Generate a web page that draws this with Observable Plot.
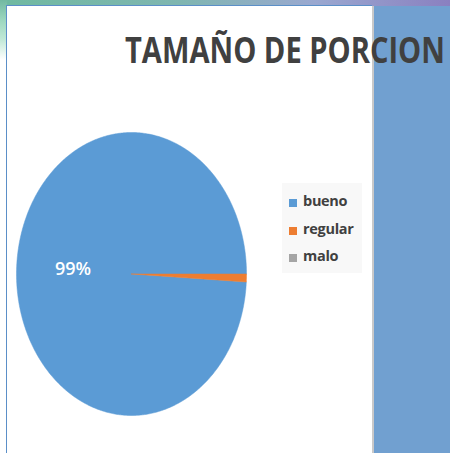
<!DOCTYPE html>
<html>
<head>
<meta charset="utf-8">
<script src="https://cdn.jsdelivr.net/npm/d3@7"></script>
<script src="https://cdn.jsdelivr.net/npm/@observablehq/plot@0.6"></script>
<style>
  html, body { margin: 0; padding: 0; background: #fff; }
  #wrap { position: relative; width: 450px; height: 453px; overflow: hidden; background: #fff; }
  .abs { position: absolute; }
  #band { left: 0; top: 0; width: 450px; height: 6px; background: linear-gradient(90deg, #6fb9a0 0%, #7fb6b0 40%, #9aa8d0 70%, #8a80c0 100%); }
  #strip { left: 0; top: 0; width: 7px; height: 60px; background: linear-gradient(180deg, #72b9a2 0%, #9ed8c0 35%, #bfe8d6 65%, #ffffff 100%); }
  #panel { left: 374px; top: 6px; width: 76px; height: 447px; background: #71a0d0; }
  #sep { left: 372px; top: 6px; width: 2px; height: 447px; background: #c9c9c9; }
  #white { left: 7px; top: 6px; width: 365px; height: 447px; background: #fff; }
  #leftline { left: 6px; top: 6px; width: 1px; height: 447px; background: #5b8fc8; }
  #topline { left: 6px; top: 5px; width: 366px; height: 1px; background: #5b8fc8; }
  #chart { left: 0; top: 0; }
  #legend { left: 282px; top: 183px; width: 80px; height: 90px; background: #f8f8f8; }
  .item { position: absolute; left: 7px; font: bold 14.5px "Open Sans", sans-serif; letter-spacing: -0.3px; color: #404040; }
  .sw { position: absolute; left: 0; width: 8px; height: 8px; }
  .lbl { position: absolute; left: 14px; white-space: nowrap; }
  #title { left: 0; top: 0; }
</style>
</head>
<body>
<div id="wrap">
  <div id="band" class="abs"></div>
  <div id="strip" class="abs"></div>
  <div id="white" class="abs"></div>
  <div id="leftline" class="abs"></div>
  <div id="topline" class="abs"></div>
  <div id="sep" class="abs"></div>
  <div id="panel" class="abs"></div>
  <div id="chart" class="abs"></div>
  <div id="legend" class="abs"></div>
  <svg id="title" class="abs" width="450" height="90">
    <text id="titletext" x="0" y="0"
      font-family="'Open Sans', 'DejaVu Sans', sans-serif" font-weight="bold" font-size="35" fill="#404040">TAMAÑO DE PORCION</text>
  </svg>
</div>
<script>
// Data
const categories = ["bueno", "regular", "malo"];
const values = [99.1, 0.9, 0];
const colors = ["#5b9bd5", "#ed7d31", "#a5a5a5"];

// Title: fit to target width by horizontal scaling
const tt = document.getElementById("titletext");
const natural = tt.getComputedTextLength();
const sx = 320 / natural;
tt.setAttribute("transform", `translate(125,63) scale(${sx},1)`);

const total = d3.sum(values);
const regFrac = values[1] / total;
const start = Math.PI / 2 + 2 * Math.PI * regFrac;
const pie = d3.pie().sort(null).value(d => d.value).startAngle(start).endAngle(start + 2 * Math.PI);
const arcs = pie(categories.map((c, i) => ({category: c, value: values[i]})));

// polygon vertices for each slice (unit circle; x/y scales make the ellipse)
const pts = [];
arcs.forEach(a => {
  if (a.endAngle - a.startAngle <= 0) return;
  const n = Math.max(2, Math.ceil((a.endAngle - a.startAngle) / 0.01));
  pts.push({category: a.data.category, x: 0, y: 0});
  for (let k = 0; k <= n; k++) {
    const t = a.startAngle + (a.endAngle - a.startAngle) * k / n;
    pts.push({category: a.data.category, x: Math.sin(t), y: Math.cos(t)});
  }
  pts.push({category: a.data.category, x: 0, y: 0});
});

const labels = arcs.filter(a => a.data.value / total >= 0.05).map(a => {
  const m = (a.startAngle + a.endAngle) / 2;
  return {x: 0.5 * Math.sin(m), y: 0.5 * Math.cos(m), text: d3.format(".0%")(a.data.value / total)};
});

const chart = Plot.plot({
  width: 450,
  height: 453,
  margin: 0,
  style: {background: "transparent", overflow: "visible"},
  x: {domain: [-1, 1], range: [16, 246], axis: null},
  y: {domain: [-1, 1], range: [415, 132], axis: null},
  color: {domain: categories, range: colors},
  marks: [
    Plot.line(pts, {x: "x", y: "y", z: "category", fill: "category", stroke: "category", strokeWidth: 0.5, curve: "linear"}),
    Plot.text(labels, {x: "x", y: "y", text: "text", fill: "white", fontSize: 18, fontWeight: 600, dx: -1, dy: -3,
      fontFamily: "'Open Sans', sans-serif"})
  ]
});
document.getElementById("chart").appendChild(chart);

// Legend
const legend = document.getElementById("legend");
categories.forEach((c, i) => {
  const it = document.createElement("div");
  it.className = "item";
  it.style.top = (8 + i * 27.5) + "px";
  it.style.height = "20px";
  const sw = document.createElement("div");
  sw.className = "sw";
  sw.style.background = colors[i];
  sw.style.top = "8px";
  const lb = document.createElement("div");
  lb.className = "lbl";
  lb.style.top = "0px";
  lb.textContent = c;
  it.appendChild(sw); it.appendChild(lb);
  legend.appendChild(it);
});
</script>
</body>
</html>
